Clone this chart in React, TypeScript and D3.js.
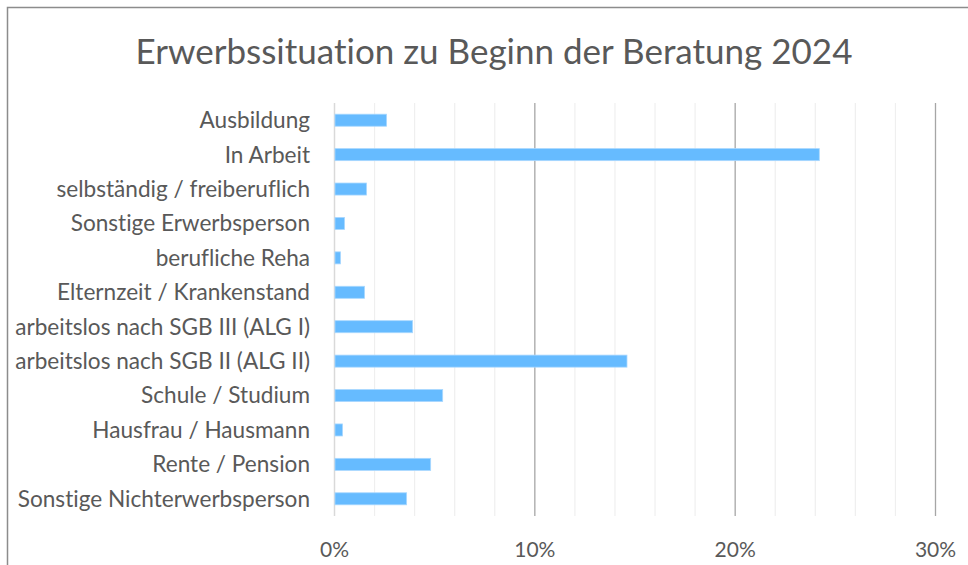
import React from 'react';
import * as d3 from 'd3';

const title = 'Erwerbssituation zu Beginn der Beratung 2024';

const categories = [
  'Ausbildung',
  'In Arbeit',
  'selbständig / freiberuflich',
  'Sonstige Erwerbsperson',
  'berufliche Reha',
  'Elternzeit / Krankenstand',
  'arbeitslos nach SGB III (ALG I)',
  'arbeitslos nach SGB II (ALG II)',
  'Schule / Studium',
  'Hausfrau / Hausmann',
  'Rente / Pension',
  'Sonstige Nichterwerbsperson',
];

// share in percent
const shares = [2.6, 24.2, 1.6, 0.5, 0.3, 1.5, 3.9, 14.6, 5.4, 0.4, 4.8, 3.6];

const majorTicks = [0, 10, 20, 30];
const minorTicks = d3.range(0, 31, 2);

const W = 968;
const H = 565;
const FONT = 'Lato, "Source Sans Pro", sans-serif';

const App: React.FC = () => {
  const x = d3.scaleLinear().domain([0, 30]).range([334.5, 935.5]);
  const y = d3
    .scaleBand<string>()
    .domain(categories)
    .range([103, 516])
    .paddingInner(0.65)
    .paddingOuter(0.325);

  const [y0, y1] = y.range();

  return (
    <svg
      width={W}
      height={H}
      style={{
        position: 'absolute',
        left: 0,
        top: 0,
        display: 'block',
        background: '#fff',
        fontVariantLigatures: 'none',
      }}
      fontFamily={FONT}
    >
      {/* outer chart frame, runs off the picture on the right and bottom */}
      <rect x={7.5} y={7.5} width={1000} height={600} fill="#fff" stroke="#8c8c8c" strokeWidth={1.5} />

      <text x={494} y={64} textAnchor="middle" fontSize={35} fill="#595959">
        {title}
      </text>

      {/* minor grid */}
      {minorTicks
        .filter(t => t % 10 !== 0)
        .map(t => (
          <line key={'m' + t} x1={x(t)} x2={x(t)} y1={y0} y2={y1} stroke="#efefef" strokeWidth={1.2} />
        ))}
      {/* major grid */}
      {majorTicks
        .filter(t => t !== 0)
        .map(t => (
          <line key={'M' + t} x1={x(t)} x2={x(t)} y1={y0} y2={y1} stroke="#a6a6a6" strokeWidth={1.3} />
        ))}
      <line x1={x(0)} x2={x(0)} y1={y0} y2={y1} stroke="#d9d9d9" strokeWidth={1.5} />

      {/* bars */}
      {categories.map((c, i) => (
        <rect
          key={c}
          x={x(0) + 0.5}
          y={y(c)!}
          width={x(shares[i]) - x(0) - 0.5}
          height={y.bandwidth()}
          fill="#66bbff"
          stroke="#a9d8ff"
          strokeWidth={0.8}
        />
      ))}

      {/* category labels */}
      {categories.map(c => (
        <text
          key={'l' + c}
          x={310}
          y={y(c)! + y.bandwidth() / 2}
          dy="0.35em"
          textAnchor="end"
          fontSize={22.6}
          fill="#595959"
        >
          {c}
        </text>
      ))}

      {/* value axis labels */}
      {majorTicks.map(t => (
        <text key={'t' + t} x={x(t)} y={557} textAnchor="middle" fontSize={21} fill="#595959">
          {t}%
        </text>
      ))}
    </svg>
  );
};

export default App;
